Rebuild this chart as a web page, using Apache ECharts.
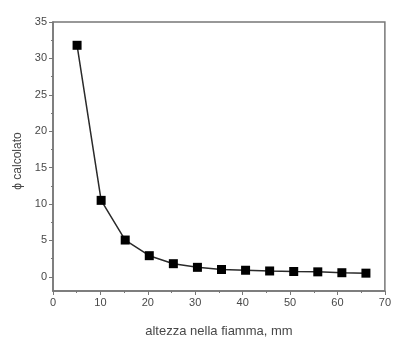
<!DOCTYPE html>
<html>
<head>
<meta charset="utf-8">
<script src="https://cdn.jsdelivr.net/npm/echarts@6/dist/echarts.min.js"></script>
<style>
  html, body { margin: 0; padding: 0; background: #fff; }
  #chart { width: 394px; height: 343px; }
</style>
</head>
<body>
<div id="chart"></div>
<script>
// Height in the flame (mm) and the computed phi at each height
const heights = [5, 10, 15, 20, 25, 30, 35, 40, 45, 50, 55, 60, 65];
const phiValues = [31.8, 10.5, 5.05, 2.9, 1.8, 1.3, 1.0, 0.9, 0.8, 0.73, 0.68, 0.56, 0.5];

// Axis ranges and tick steps
const xRange = [0, 70];
const xStep = 10;
const yRange = [0, 35];
const yStep = 5;
const yFloor = -2.5;   // frame extends a little below zero

const axisColor = '#777777';
const textColor = '#484848';
const font = 'Liberation Sans, Arial, sans-serif';

// Frame grid covers yFloor..35; data grid covers 0..35 and sits inside it,
// its bottom raised by the height of the (yFloor..0) band.
const frame = { left: 53, right: 4, top: 22, bottom: 48 };
const frameHeight = 343 - frame.top - frame.bottom;
const pxPerUnit = frameHeight / (yRange[1] - yFloor);
const dataBottom = frame.bottom + (0 - yFloor) * pxPerUnit;

const chart = echarts.init(document.getElementById('chart'), null, { renderer: 'canvas' });

chart.setOption({
  animation: false,
  grid: [
    Object.assign({ show: true, borderColor: axisColor, borderWidth: 1.5, backgroundColor: 'transparent' }, frame),
    { left: frame.left, right: frame.right, top: frame.top, bottom: dataBottom }
  ],
  xAxis: [
    {
      gridIndex: 0,
      type: 'value',
      min: xRange[0],
      max: xRange[1],
      interval: xStep,
      name: 'altezza nella fiamma, mm',
      nameLocation: 'middle',
      nameGap: 34,
      nameTextStyle: { color: textColor, fontFamily: font, fontSize: 13 },
      axisLine: { show: true, onZero: false, lineStyle: { color: axisColor, width: 1.5 } },
      axisTick: { show: true, length: 4, lineStyle: { color: axisColor, width: 1 } },
      minorTick: { show: true, splitNumber: 2, length: 2, lineStyle: { color: axisColor, width: 1 } },
      axisLabel: { color: textColor, fontFamily: font, fontSize: 11, margin: 6 },
      splitLine: { show: false }
    },
    {
      gridIndex: 1,
      type: 'value',
      min: xRange[0],
      max: xRange[1],
      interval: xStep,
      show: false
    }
  ],
  yAxis: [
    {
      gridIndex: 0,
      type: 'value',
      min: yFloor,
      max: yRange[1],
      name: 'ϕ calcolato',
      nameLocation: 'middle',
      nameGap: 29,
      nameRotate: 90,
      nameTextStyle: { color: textColor, fontFamily: font, fontSize: 12, padding: [0, 9, 0, 0] },
      axisLine: { show: true, lineStyle: { color: axisColor, width: 1.5 } },
      axisTick: { show: false },
      axisLabel: { show: false },
      splitLine: { show: false }
    },
    {
      gridIndex: 1,
      type: 'value',
      min: yRange[0],
      max: yRange[1],
      interval: yStep,
      axisLine: { show: false },
      axisTick: { show: true, length: 4, lineStyle: { color: axisColor, width: 1 } },
      minorTick: { show: true, splitNumber: 2, length: 2, lineStyle: { color: axisColor, width: 1 } },
      axisLabel: { color: textColor, fontFamily: font, fontSize: 11, margin: 6 },
      splitLine: { show: false }
    }
  ],
  series: [{
    type: 'line',
    xAxisIndex: 1,
    yAxisIndex: 1,
    data: heights.map((h, i) => [h, phiValues[i]]),
    symbol: 'rect',
    symbolSize: 9,
    itemStyle: { color: '#000' },
    lineStyle: { color: '#2a2a2a', width: 1.5 }
  }]
});
</script>
</body>
</html>
